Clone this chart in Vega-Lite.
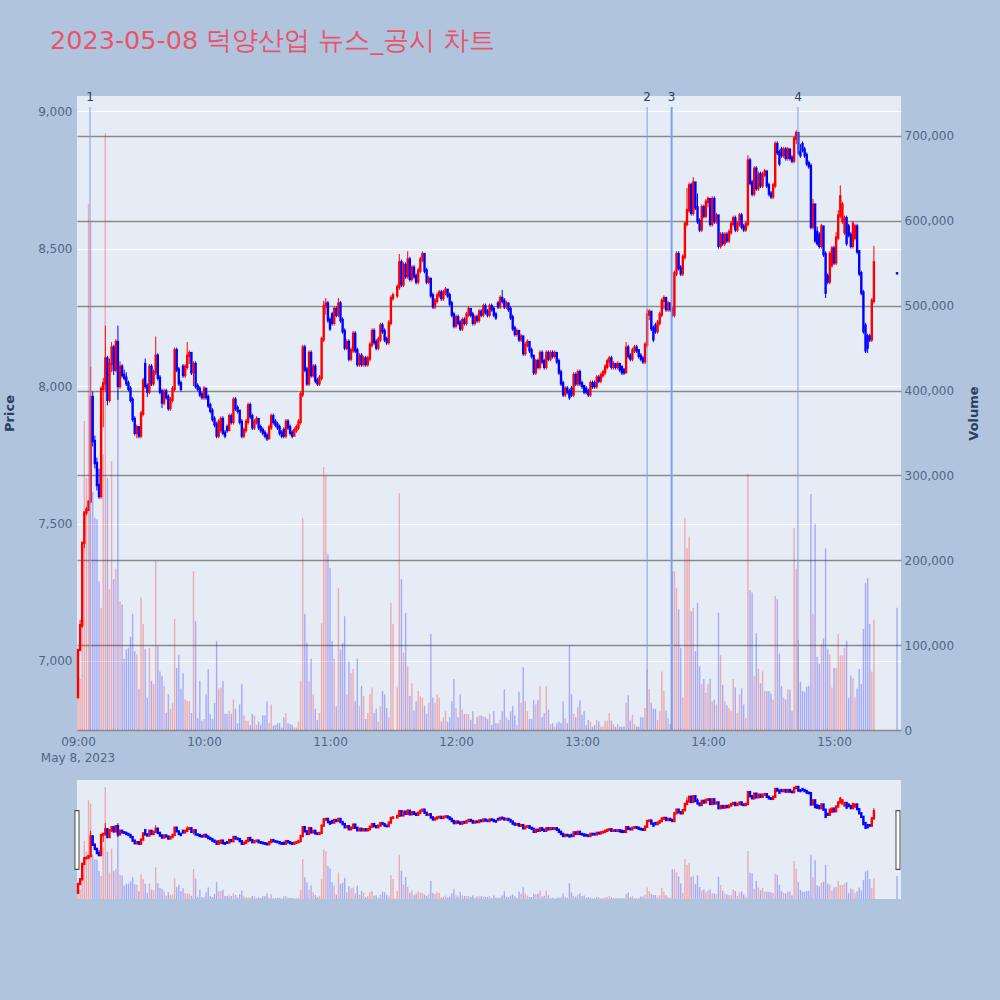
{
  "$schema": "https://vega.github.io/schema/vega-lite/v6.json",
  "description": "Deokyang 1-minute candles with volume, news markers and range slider",
  "autosize": "none",
  "width": 824,
  "height": 634,
  "padding": {"left": 77, "top": 96, "right": 99, "bottom": 270},
  "background": "#b0c4de",
  "title": {
    "text": "2023-05-08 덕양산업 뉴스_공시 차트",
    "anchor": "start",
    "frame": "group",
    "dx": -27,
    "offset": 37,
    "fontSize": 25.5,
    "fontWeight": "normal",
    "color": "#e9546b"
  },
  "datasets": {
    "px": [
      {"t":"2023-05-08T09:00","o":6870,"h":7040,"l":6860,"c":7040,"v":36000},
      {"t":"2023-05-08T09:01","o":7040,"h":7150,"l":7040,"c":7130,"v":60000},
      {"t":"2023-05-08T09:02","o":7130,"h":7430,"l":7120,"c":7430,"v":217000},
      {"t":"2023-05-08T09:03","o":7430,"h":7540,"l":7410,"c":7540,"v":364000},
      {"t":"2023-05-08T09:04","o":7540,"h":7560,"l":7530,"c":7550,"v":297000},
      {"t":"2023-05-08T09:05","o":7550,"h":7580,"l":7550,"c":7580,"v":620000},
      {"t":"2023-05-08T09:06","o":7580,"h":8070,"l":7580,"c":7960,"v":600000},
      {"t":"2023-05-08T09:07","o":7960,"h":7980,"l":7780,"c":7800,"v":280000},
      {"t":"2023-05-08T09:08","o":7800,"h":7820,"l":7700,"c":7720,"v":250000},
      {"t":"2023-05-08T09:09","o":7720,"h":7740,"l":7620,"c":7640,"v":248000},
      {"t":"2023-05-08T09:10","o":7640,"h":7700,"l":7590,"c":7600,"v":175000},
      {"t":"2023-05-08T09:11","o":7600,"h":8000,"l":7590,"c":7990,"v":144000},
      {"t":"2023-05-08T09:12","o":7990,"h":8030,"l":7850,"c":8010,"v":325000},
      {"t":"2023-05-08T09:13","o":8010,"h":8220,"l":7980,"c":8100,"v":703000},
      {"t":"2023-05-08T09:14","o":8100,"h":8110,"l":7930,"c":7950,"v":297000},
      {"t":"2023-05-08T09:15","o":7950,"h":8100,"l":7940,"c":8080,"v":166000},
      {"t":"2023-05-08T09:16","o":8080,"h":8160,"l":8050,"c":8140,"v":317000},
      {"t":"2023-05-08T09:17","o":8140,"h":8150,"l":8040,"c":8060,"v":178000},
      {"t":"2023-05-08T09:18","o":8060,"h":8170,"l":8050,"c":8160,"v":190000},
      {"t":"2023-05-08T09:19","o":8160,"h":8220,"l":7950,"c":8000,"v":400000},
      {"t":"2023-05-08T09:20","o":8000,"h":8090,"l":7990,"c":8070,"v":152000},
      {"t":"2023-05-08T09:21","o":8070,"h":8080,"l":8030,"c":8040,"v":148000},
      {"t":"2023-05-08T09:22","o":8040,"h":8060,"l":8020,"c":8030,"v":84000},
      {"t":"2023-05-08T09:23","o":8030,"h":8050,"l":8000,"c":8010,"v":95000},
      {"t":"2023-05-08T09:24","o":8010,"h":8020,"l":7980,"c":7990,"v":97000},
      {"t":"2023-05-08T09:25","o":7990,"h":8000,"l":7940,"c":7950,"v":110000},
      {"t":"2023-05-08T09:26","o":7950,"h":7960,"l":7870,"c":7880,"v":137000},
      {"t":"2023-05-08T09:27","o":7880,"h":7890,"l":7820,"c":7830,"v":93000},
      {"t":"2023-05-08T09:28","o":7830,"h":7860,"l":7810,"c":7850,"v":89000},
      {"t":"2023-05-08T09:29","o":7850,"h":7850,"l":7810,"c":7820,"v":48000},
      {"t":"2023-05-08T09:30","o":7820,"h":7910,"l":7810,"c":7900,"v":156000},
      {"t":"2023-05-08T09:31","o":7900,"h":8030,"l":7890,"c":8020,"v":125000},
      {"t":"2023-05-08T09:32","o":8080,"h":8100,"l":7990,"c":8000,"v":95000},
      {"t":"2023-05-08T09:33","o":8000,"h":8010,"l":7960,"c":7980,"v":38000},
      {"t":"2023-05-08T09:34","o":7980,"h":8080,"l":7970,"c":8070,"v":97000},
      {"t":"2023-05-08T09:35","o":8070,"h":8080,"l":8000,"c":8010,"v":58000},
      {"t":"2023-05-08T09:36","o":8010,"h":8060,"l":8000,"c":8050,"v":54000},
      {"t":"2023-05-08T09:37","o":8050,"h":8180,"l":8040,"c":8110,"v":199000},
      {"t":"2023-05-08T09:38","o":8110,"h":8120,"l":8020,"c":8030,"v":99000},
      {"t":"2023-05-08T09:39","o":8030,"h":8040,"l":7970,"c":7980,"v":69000},
      {"t":"2023-05-08T09:40","o":7980,"h":7990,"l":7920,"c":7940,"v":64000},
      {"t":"2023-05-08T09:41","o":7940,"h":7990,"l":7930,"c":7980,"v":52000},
      {"t":"2023-05-08T09:42","o":7980,"h":7990,"l":7950,"c":7960,"v":20000},
      {"t":"2023-05-08T09:43","o":7960,"h":7970,"l":7910,"c":7920,"v":42000},
      {"t":"2023-05-08T09:44","o":7920,"h":7960,"l":7910,"c":7950,"v":25000},
      {"t":"2023-05-08T09:45","o":7950,"h":8000,"l":7940,"c":7990,"v":32000},
      {"t":"2023-05-08T09:46","o":7990,"h":8140,"l":7980,"c":8130,"v":131000},
      {"t":"2023-05-08T09:47","o":8130,"h":8140,"l":8050,"c":8060,"v":73000},
      {"t":"2023-05-08T09:48","o":8060,"h":8070,"l":8000,"c":8010,"v":89000},
      {"t":"2023-05-08T09:49","o":8010,"h":8020,"l":7980,"c":7990,"v":49000},
      {"t":"2023-05-08T09:50","o":8070,"h":8080,"l":8030,"c":8040,"v":67000},
      {"t":"2023-05-08T09:51","o":8040,"h":8080,"l":8030,"c":8070,"v":36000},
      {"t":"2023-05-08T09:52","o":8070,"h":8160,"l":8060,"c":8110,"v":34000},
      {"t":"2023-05-08T09:53","o":8110,"h":8130,"l":8080,"c":8120,"v":34000},
      {"t":"2023-05-08T09:54","o":8120,"h":8120,"l":8040,"c":8050,"v":20000},
      {"t":"2023-05-08T09:55","o":8050,"h":8090,"l":8000,"c":8080,"v":187000},
      {"t":"2023-05-08T09:56","o":8080,"h":8090,"l":7990,"c":8000,"v":128000},
      {"t":"2023-05-08T09:57","o":8000,"h":8010,"l":7980,"c":7990,"v":14000},
      {"t":"2023-05-08T09:58","o":7990,"h":8000,"l":7960,"c":7970,"v":58000},
      {"t":"2023-05-08T09:59","o":7970,"h":7980,"l":7950,"c":7960,"v":11000},
      {"t":"2023-05-08T10:00","o":7960,"h":8000,"l":7950,"c":7990,"v":13000},
      {"t":"2023-05-08T10:01","o":7990,"h":7990,"l":7950,"c":7960,"v":42000},
      {"t":"2023-05-08T10:02","o":7960,"h":7970,"l":7920,"c":7930,"v":72000},
      {"t":"2023-05-08T10:03","o":7930,"h":7940,"l":7900,"c":7910,"v":19000},
      {"t":"2023-05-08T10:04","o":7910,"h":7920,"l":7870,"c":7880,"v":13000},
      {"t":"2023-05-08T10:05","o":7880,"h":7890,"l":7850,"c":7860,"v":32000},
      {"t":"2023-05-08T10:06","o":7860,"h":7870,"l":7810,"c":7820,"v":105000},
      {"t":"2023-05-08T10:07","o":7820,"h":7880,"l":7810,"c":7870,"v":49000},
      {"t":"2023-05-08T10:08","o":7840,"h":7890,"l":7830,"c":7880,"v":50000},
      {"t":"2023-05-08T10:09","o":7880,"h":7890,"l":7820,"c":7830,"v":58000},
      {"t":"2023-05-08T10:10","o":7830,"h":7840,"l":7810,"c":7820,"v":19000},
      {"t":"2023-05-08T10:11","o":7850,"h":7860,"l":7830,"c":7840,"v":19000},
      {"t":"2023-05-08T10:12","o":7840,"h":7900,"l":7840,"c":7890,"v":22000},
      {"t":"2023-05-08T10:13","o":7890,"h":7900,"l":7860,"c":7870,"v":19000},
      {"t":"2023-05-08T10:14","o":7870,"h":7960,"l":7860,"c":7950,"v":36000},
      {"t":"2023-05-08T10:15","o":7950,"h":7960,"l":7910,"c":7920,"v":25000},
      {"t":"2023-05-08T10:16","o":7920,"h":7930,"l":7900,"c":7910,"v":8000},
      {"t":"2023-05-08T10:17","o":7910,"h":7910,"l":7860,"c":7870,"v":30000},
      {"t":"2023-05-08T10:18","o":7870,"h":7880,"l":7810,"c":7820,"v":54000},
      {"t":"2023-05-08T10:19","o":7820,"h":7850,"l":7810,"c":7840,"v":17000},
      {"t":"2023-05-08T10:20","o":7840,"h":7880,"l":7830,"c":7870,"v":11000},
      {"t":"2023-05-08T10:21","o":7870,"h":7940,"l":7860,"c":7930,"v":11000},
      {"t":"2023-05-08T10:22","o":7930,"h":7940,"l":7880,"c":7890,"v":6000},
      {"t":"2023-05-08T10:23","o":7890,"h":7900,"l":7840,"c":7850,"v":19000},
      {"t":"2023-05-08T10:24","o":7850,"h":7880,"l":7840,"c":7870,"v":17000},
      {"t":"2023-05-08T10:25","o":7870,"h":7890,"l":7860,"c":7880,"v":6000},
      {"t":"2023-05-08T10:26","o":7880,"h":7880,"l":7840,"c":7850,"v":10000},
      {"t":"2023-05-08T10:27","o":7850,"h":7860,"l":7830,"c":7840,"v":6000},
      {"t":"2023-05-08T10:28","o":7840,"h":7850,"l":7820,"c":7830,"v":17000},
      {"t":"2023-05-08T10:29","o":7830,"h":7840,"l":7810,"c":7820,"v":17000},
      {"t":"2023-05-08T10:30","o":7820,"h":7830,"l":7800,"c":7810,"v":34000},
      {"t":"2023-05-08T10:31","o":7810,"h":7860,"l":7810,"c":7850,"v":8000},
      {"t":"2023-05-08T10:32","o":7850,"h":7900,"l":7840,"c":7890,"v":30000},
      {"t":"2023-05-08T10:33","o":7890,"h":7900,"l":7860,"c":7870,"v":5000},
      {"t":"2023-05-08T10:34","o":7870,"h":7880,"l":7850,"c":7860,"v":6000},
      {"t":"2023-05-08T10:35","o":7860,"h":7870,"l":7840,"c":7850,"v":8000},
      {"t":"2023-05-08T10:36","o":7850,"h":7860,"l":7820,"c":7830,"v":8000},
      {"t":"2023-05-08T10:37","o":7830,"h":7840,"l":7810,"c":7820,"v":3000},
      {"t":"2023-05-08T10:38","o":7840,"h":7850,"l":7810,"c":7820,"v":15000},
      {"t":"2023-05-08T10:39","o":7820,"h":7880,"l":7810,"c":7870,"v":20000},
      {"t":"2023-05-08T10:40","o":7870,"h":7880,"l":7840,"c":7850,"v":8000},
      {"t":"2023-05-08T10:41","o":7850,"h":7860,"l":7820,"c":7830,"v":7000},
      {"t":"2023-05-08T10:42","o":7830,"h":7840,"l":7810,"c":7820,"v":6000},
      {"t":"2023-05-08T10:43","o":7820,"h":7850,"l":7820,"c":7840,"v":3000},
      {"t":"2023-05-08T10:44","o":7840,"h":7860,"l":7830,"c":7850,"v":3000},
      {"t":"2023-05-08T10:45","o":7850,"h":7880,"l":7840,"c":7870,"v":10000},
      {"t":"2023-05-08T10:46","o":7870,"h":7980,"l":7860,"c":7970,"v":58000},
      {"t":"2023-05-08T10:47","o":7970,"h":8150,"l":7960,"c":8140,"v":250000},
      {"t":"2023-05-08T10:48","o":8140,"h":8150,"l":8050,"c":8060,"v":137000},
      {"t":"2023-05-08T10:49","o":8060,"h":8070,"l":8000,"c":8010,"v":103000},
      {"t":"2023-05-08T10:50","o":8010,"h":8130,"l":8000,"c":8120,"v":58000},
      {"t":"2023-05-08T10:51","o":8120,"h":8130,"l":8030,"c":8040,"v":84000},
      {"t":"2023-05-08T10:52","o":8040,"h":8080,"l":8030,"c":8070,"v":42000},
      {"t":"2023-05-08T10:53","o":8070,"h":8080,"l":8010,"c":8020,"v":25000},
      {"t":"2023-05-08T10:54","o":8020,"h":8030,"l":8000,"c":8010,"v":12000},
      {"t":"2023-05-08T10:55","o":8010,"h":8040,"l":8000,"c":8030,"v":20000},
      {"t":"2023-05-08T10:56","o":8030,"h":8180,"l":8020,"c":8170,"v":126000},
      {"t":"2023-05-08T10:57","o":8170,"h":8310,"l":8160,"c":8290,"v":310000},
      {"t":"2023-05-08T10:58","o":8290,"h":8320,"l":8260,"c":8300,"v":300000},
      {"t":"2023-05-08T10:59","o":8300,"h":8310,"l":8230,"c":8240,"v":207000},
      {"t":"2023-05-08T11:00","o":8240,"h":8250,"l":8200,"c":8210,"v":191000},
      {"t":"2023-05-08T11:01","o":8260,"h":8270,"l":8220,"c":8230,"v":105000},
      {"t":"2023-05-08T11:02","o":8230,"h":8290,"l":8220,"c":8280,"v":84000},
      {"t":"2023-05-08T11:03","o":8280,"h":8290,"l":8250,"c":8260,"v":28000},
      {"t":"2023-05-08T11:04","o":8260,"h":8320,"l":8250,"c":8300,"v":167000},
      {"t":"2023-05-08T11:05","o":8300,"h":8310,"l":8230,"c":8240,"v":95000},
      {"t":"2023-05-08T11:06","o":8240,"h":8250,"l":8190,"c":8200,"v":103000},
      {"t":"2023-05-08T11:07","o":8200,"h":8210,"l":8130,"c":8140,"v":134000},
      {"t":"2023-05-08T11:08","o":8140,"h":8170,"l":8130,"c":8160,"v":42000},
      {"t":"2023-05-08T11:09","o":8160,"h":8170,"l":8090,"c":8100,"v":81000},
      {"t":"2023-05-08T11:10","o":8100,"h":8140,"l":8090,"c":8130,"v":67000},
      {"t":"2023-05-08T11:11","o":8130,"h":8200,"l":8120,"c":8190,"v":72000},
      {"t":"2023-05-08T11:12","o":8190,"h":8200,"l":8120,"c":8130,"v":34000},
      {"t":"2023-05-08T11:13","o":8130,"h":8140,"l":8070,"c":8080,"v":84000},
      {"t":"2023-05-08T11:14","o":8080,"h":8120,"l":8070,"c":8110,"v":28000},
      {"t":"2023-05-08T11:15","o":8110,"h":8120,"l":8070,"c":8080,"v":52000},
      {"t":"2023-05-08T11:16","o":8080,"h":8110,"l":8070,"c":8100,"v":40000},
      {"t":"2023-05-08T11:17","o":8100,"h":8110,"l":8070,"c":8080,"v":13000},
      {"t":"2023-05-08T11:18","o":8080,"h":8110,"l":8070,"c":8100,"v":20000},
      {"t":"2023-05-08T11:19","o":8100,"h":8160,"l":8090,"c":8150,"v":42000},
      {"t":"2023-05-08T11:20","o":8150,"h":8210,"l":8140,"c":8200,"v":50000},
      {"t":"2023-05-08T11:21","o":8200,"h":8210,"l":8150,"c":8160,"v":20000},
      {"t":"2023-05-08T11:22","o":8160,"h":8170,"l":8130,"c":8140,"v":25000},
      {"t":"2023-05-08T11:23","o":8140,"h":8180,"l":8130,"c":8170,"v":10000},
      {"t":"2023-05-08T11:24","o":8170,"h":8230,"l":8160,"c":8220,"v":28000},
      {"t":"2023-05-08T11:25","o":8220,"h":8230,"l":8190,"c":8200,"v":46000},
      {"t":"2023-05-08T11:26","o":8200,"h":8210,"l":8160,"c":8170,"v":42000},
      {"t":"2023-05-08T11:27","o":8170,"h":8180,"l":8150,"c":8160,"v":26000},
      {"t":"2023-05-08T11:28","o":8160,"h":8240,"l":8150,"c":8230,"v":15000},
      {"t":"2023-05-08T11:29","o":8230,"h":8330,"l":8220,"c":8320,"v":150000},
      {"t":"2023-05-08T11:30","o":8320,"h":8340,"l":8310,"c":8330,"v":125000},
      {"t":"2023-05-08T11:32","o":8330,"h":8370,"l":8320,"c":8360,"v":50000},
      {"t":"2023-05-08T11:33","o":8360,"h":8480,"l":8350,"c":8450,"v":279000},
      {"t":"2023-05-08T11:34","o":8450,"h":8460,"l":8360,"c":8370,"v":178000},
      {"t":"2023-05-08T11:35","o":8370,"h":8450,"l":8360,"c":8440,"v":91000},
      {"t":"2023-05-08T11:36","o":8440,"h":8450,"l":8390,"c":8400,"v":138000},
      {"t":"2023-05-08T11:37","o":8400,"h":8490,"l":8390,"c":8460,"v":75000},
      {"t":"2023-05-08T11:38","o":8460,"h":8470,"l":8380,"c":8390,"v":40000},
      {"t":"2023-05-08T11:39","o":8390,"h":8440,"l":8380,"c":8430,"v":55000},
      {"t":"2023-05-08T11:40","o":8430,"h":8440,"l":8390,"c":8400,"v":23000},
      {"t":"2023-05-08T11:41","o":8400,"h":8410,"l":8370,"c":8380,"v":34000},
      {"t":"2023-05-08T11:42","o":8380,"h":8430,"l":8370,"c":8420,"v":46000},
      {"t":"2023-05-08T11:43","o":8420,"h":8470,"l":8410,"c":8460,"v":40000},
      {"t":"2023-05-08T11:44","o":8460,"h":8490,"l":8450,"c":8480,"v":38000},
      {"t":"2023-05-08T11:45","o":8480,"h":8480,"l":8410,"c":8420,"v":28000},
      {"t":"2023-05-08T11:46","o":8420,"h":8430,"l":8370,"c":8380,"v":19000},
      {"t":"2023-05-08T11:47","o":8380,"h":8400,"l":8370,"c":8390,"v":32000},
      {"t":"2023-05-08T11:48","o":8390,"h":8390,"l":8320,"c":8330,"v":113000},
      {"t":"2023-05-08T11:49","o":8330,"h":8340,"l":8280,"c":8290,"v":38000},
      {"t":"2023-05-08T11:50","o":8290,"h":8320,"l":8280,"c":8310,"v":32000},
      {"t":"2023-05-08T11:51","o":8310,"h":8340,"l":8300,"c":8330,"v":42000},
      {"t":"2023-05-08T11:52","o":8330,"h":8350,"l":8320,"c":8340,"v":38000},
      {"t":"2023-05-08T11:53","o":8340,"h":8350,"l":8310,"c":8320,"v":10000},
      {"t":"2023-05-08T11:54","o":8320,"h":8350,"l":8310,"c":8340,"v":15000},
      {"t":"2023-05-08T11:55","o":8340,"h":8360,"l":8330,"c":8350,"v":22000},
      {"t":"2023-05-08T11:56","o":8350,"h":8350,"l":8320,"c":8330,"v":10000},
      {"t":"2023-05-08T11:57","o":8330,"h":8340,"l":8290,"c":8300,"v":15000},
      {"t":"2023-05-08T11:58","o":8300,"h":8310,"l":8250,"c":8260,"v":34000},
      {"t":"2023-05-08T11:59","o":8260,"h":8270,"l":8210,"c":8220,"v":60000},
      {"t":"2023-05-08T12:00","o":8220,"h":8260,"l":8210,"c":8250,"v":26000},
      {"t":"2023-05-08T12:01","o":8250,"h":8260,"l":8220,"c":8230,"v":15000},
      {"t":"2023-05-08T12:02","o":8230,"h":8240,"l":8200,"c":8210,"v":42000},
      {"t":"2023-05-08T12:03","o":8210,"h":8250,"l":8200,"c":8240,"v":24000},
      {"t":"2023-05-08T12:04","o":8240,"h":8250,"l":8220,"c":8230,"v":19000},
      {"t":"2023-05-08T12:05","o":8230,"h":8270,"l":8220,"c":8260,"v":19000},
      {"t":"2023-05-08T12:06","o":8260,"h":8290,"l":8250,"c":8280,"v":19000},
      {"t":"2023-05-08T12:07","o":8280,"h":8280,"l":8250,"c":8260,"v":12000},
      {"t":"2023-05-08T12:08","o":8260,"h":8270,"l":8220,"c":8230,"v":22000},
      {"t":"2023-05-08T12:09","o":8230,"h":8260,"l":8220,"c":8250,"v":7000},
      {"t":"2023-05-08T12:10","o":8250,"h":8260,"l":8230,"c":8240,"v":15000},
      {"t":"2023-05-08T12:11","o":8240,"h":8280,"l":8230,"c":8270,"v":17000},
      {"t":"2023-05-08T12:12","o":8270,"h":8280,"l":8250,"c":8260,"v":17000},
      {"t":"2023-05-08T12:13","o":8260,"h":8300,"l":8250,"c":8290,"v":16000},
      {"t":"2023-05-08T12:14","o":8290,"h":8300,"l":8260,"c":8270,"v":15000},
      {"t":"2023-05-08T12:15","o":8270,"h":8280,"l":8250,"c":8260,"v":13000},
      {"t":"2023-05-08T12:16","o":8260,"h":8300,"l":8250,"c":8290,"v":19000},
      {"t":"2023-05-08T12:17","o":8290,"h":8300,"l":8270,"c":8280,"v":6000},
      {"t":"2023-05-08T12:18","o":8280,"h":8290,"l":8250,"c":8260,"v":22000},
      {"t":"2023-05-08T12:19","o":8260,"h":8270,"l":8240,"c":8250,"v":8000},
      {"t":"2023-05-08T12:20","o":8300,"h":8310,"l":8280,"c":8290,"v":8000},
      {"t":"2023-05-08T12:21","o":8290,"h":8330,"l":8280,"c":8320,"v":12000},
      {"t":"2023-05-08T12:22","o":8320,"h":8350,"l":8300,"c":8310,"v":22000},
      {"t":"2023-05-08T12:23","o":8310,"h":8320,"l":8280,"c":8290,"v":48000},
      {"t":"2023-05-08T12:24","o":8290,"h":8310,"l":8280,"c":8300,"v":15000},
      {"t":"2023-05-08T12:25","o":8300,"h":8300,"l":8270,"c":8280,"v":12000},
      {"t":"2023-05-08T12:26","o":8280,"h":8290,"l":8240,"c":8250,"v":22000},
      {"t":"2023-05-08T12:27","o":8250,"h":8260,"l":8200,"c":8210,"v":28000},
      {"t":"2023-05-08T12:28","o":8210,"h":8220,"l":8180,"c":8190,"v":17000},
      {"t":"2023-05-08T12:29","o":8190,"h":8210,"l":8180,"c":8200,"v":6000},
      {"t":"2023-05-08T12:30","o":8200,"h":8200,"l":8160,"c":8170,"v":45000},
      {"t":"2023-05-08T12:31","o":8170,"h":8190,"l":8160,"c":8180,"v":32000},
      {"t":"2023-05-08T12:32","o":8180,"h":8180,"l":8110,"c":8120,"v":74000},
      {"t":"2023-05-08T12:33","o":8120,"h":8160,"l":8110,"c":8150,"v":34000},
      {"t":"2023-05-08T12:34","o":8150,"h":8170,"l":8140,"c":8160,"v":22000},
      {"t":"2023-05-08T12:35","o":8160,"h":8160,"l":8120,"c":8130,"v":13000},
      {"t":"2023-05-08T12:36","o":8130,"h":8140,"l":8100,"c":8110,"v":13000},
      {"t":"2023-05-08T12:37","o":8110,"h":8110,"l":8040,"c":8050,"v":35000},
      {"t":"2023-05-08T12:38","o":8050,"h":8100,"l":8040,"c":8090,"v":30000},
      {"t":"2023-05-08T12:39","o":8090,"h":8100,"l":8060,"c":8070,"v":35000},
      {"t":"2023-05-08T12:40","o":8070,"h":8130,"l":8060,"c":8120,"v":52000},
      {"t":"2023-05-08T12:41","o":8120,"h":8130,"l":8080,"c":8090,"v":15000},
      {"t":"2023-05-08T12:42","o":8090,"h":8100,"l":8060,"c":8070,"v":20000},
      {"t":"2023-05-08T12:43","o":8070,"h":8130,"l":8060,"c":8120,"v":52000},
      {"t":"2023-05-08T12:44","o":8120,"h":8130,"l":8090,"c":8100,"v":24000},
      {"t":"2023-05-08T12:45","o":8100,"h":8130,"l":8090,"c":8120,"v":7000},
      {"t":"2023-05-08T12:46","o":8120,"h":8130,"l":8100,"c":8110,"v":8000},
      {"t":"2023-05-08T12:47","o":8110,"h":8130,"l":8100,"c":8120,"v":4000},
      {"t":"2023-05-08T12:48","o":8120,"h":8120,"l":8080,"c":8090,"v":8000},
      {"t":"2023-05-08T12:49","o":8090,"h":8100,"l":8040,"c":8050,"v":10000},
      {"t":"2023-05-08T12:50","o":8050,"h":8060,"l":8000,"c":8010,"v":8000},
      {"t":"2023-05-08T12:51","o":8010,"h":8020,"l":7960,"c":7970,"v":34000},
      {"t":"2023-05-08T12:52","o":7970,"h":8000,"l":7960,"c":7990,"v":14000},
      {"t":"2023-05-08T12:53","o":7990,"h":8000,"l":7970,"c":7980,"v":8000},
      {"t":"2023-05-08T12:54","o":7980,"h":7990,"l":7950,"c":7960,"v":99000},
      {"t":"2023-05-08T12:55","o":7990,"h":8000,"l":7960,"c":7970,"v":42000},
      {"t":"2023-05-08T12:56","o":7970,"h":8050,"l":7960,"c":8040,"v":19000},
      {"t":"2023-05-08T12:57","o":8040,"h":8050,"l":8000,"c":8010,"v":15000},
      {"t":"2023-05-08T12:58","o":8010,"h":8060,"l":8000,"c":8050,"v":27000},
      {"t":"2023-05-08T12:59","o":8050,"h":8060,"l":8000,"c":8010,"v":35000},
      {"t":"2023-05-08T13:00","o":8010,"h":8020,"l":7990,"c":8000,"v":18000},
      {"t":"2023-05-08T13:01","o":8000,"h":8000,"l":7970,"c":7980,"v":22000},
      {"t":"2023-05-08T13:02","o":7990,"h":8000,"l":7970,"c":7980,"v":6000},
      {"t":"2023-05-08T13:03","o":7980,"h":7990,"l":7960,"c":7970,"v":12000},
      {"t":"2023-05-08T13:04","o":7970,"h":8020,"l":7960,"c":8010,"v":10000},
      {"t":"2023-05-08T13:05","o":8010,"h":8020,"l":7990,"c":8000,"v":4000},
      {"t":"2023-05-08T13:06","o":8010,"h":8020,"l":7990,"c":8000,"v":6000},
      {"t":"2023-05-08T13:07","o":8000,"h":8040,"l":7990,"c":8030,"v":12000},
      {"t":"2023-05-08T13:08","o":8030,"h":8040,"l":8010,"c":8020,"v":10000},
      {"t":"2023-05-08T13:09","o":8020,"h":8050,"l":8010,"c":8040,"v":4000},
      {"t":"2023-05-08T13:10","o":8040,"h":8060,"l":8030,"c":8050,"v":4000},
      {"t":"2023-05-08T13:11","o":8050,"h":8080,"l":8040,"c":8070,"v":11000},
      {"t":"2023-05-08T13:12","o":8070,"h":8100,"l":8060,"c":8090,"v":11000},
      {"t":"2023-05-08T13:13","o":8090,"h":8110,"l":8070,"c":8100,"v":20000},
      {"t":"2023-05-08T13:14","o":8100,"h":8110,"l":8060,"c":8070,"v":11000},
      {"t":"2023-05-08T13:15","o":8070,"h":8090,"l":8060,"c":8080,"v":7000},
      {"t":"2023-05-08T13:16","o":8080,"h":8080,"l":8060,"c":8070,"v":4000},
      {"t":"2023-05-08T13:17","o":8070,"h":8090,"l":8060,"c":8080,"v":7000},
      {"t":"2023-05-08T13:18","o":8080,"h":8080,"l":8050,"c":8060,"v":4000},
      {"t":"2023-05-08T13:19","o":8070,"h":8070,"l":8040,"c":8050,"v":4000},
      {"t":"2023-05-08T13:20","o":8060,"h":8060,"l":8040,"c":8050,"v":4000},
      {"t":"2023-05-08T13:21","o":8050,"h":8160,"l":8050,"c":8140,"v":32000},
      {"t":"2023-05-08T13:22","o":8140,"h":8150,"l":8100,"c":8110,"v":41000},
      {"t":"2023-05-08T13:23","o":8110,"h":8120,"l":8090,"c":8100,"v":11000},
      {"t":"2023-05-08T13:24","o":8100,"h":8140,"l":8090,"c":8130,"v":18000},
      {"t":"2023-05-08T13:25","o":8130,"h":8150,"l":8120,"c":8140,"v":7000},
      {"t":"2023-05-08T13:26","o":8140,"h":8150,"l":8120,"c":8130,"v":4000},
      {"t":"2023-05-08T13:27","o":8130,"h":8130,"l":8100,"c":8110,"v":4000},
      {"t":"2023-05-08T13:28","o":8110,"h":8120,"l":8090,"c":8100,"v":15000},
      {"t":"2023-05-08T13:29","o":8100,"h":8110,"l":8080,"c":8090,"v":15000},
      {"t":"2023-05-08T13:30","o":8090,"h":8160,"l":8080,"c":8150,"v":26000},
      {"t":"2023-05-08T13:31","o":8150,"h":8280,"l":8140,"c":8260,"v":72000},
      {"t":"2023-05-08T13:32","o":8260,"h":8280,"l":8240,"c":8270,"v":48000},
      {"t":"2023-05-08T13:33","o":8270,"h":8270,"l":8200,"c":8210,"v":32000},
      {"t":"2023-05-08T13:34","o":8210,"h":8220,"l":8160,"c":8170,"v":25000},
      {"t":"2023-05-08T13:35","o":8220,"h":8230,"l":8190,"c":8200,"v":25000},
      {"t":"2023-05-08T13:36","o":8200,"h":8240,"l":8190,"c":8230,"v":12000},
      {"t":"2023-05-08T13:37","o":8230,"h":8270,"l":8220,"c":8260,"v":22000},
      {"t":"2023-05-08T13:38","o":8260,"h":8320,"l":8250,"c":8310,"v":69000},
      {"t":"2023-05-08T13:39","o":8310,"h":8330,"l":8280,"c":8320,"v":46000},
      {"t":"2023-05-08T13:40","o":8320,"h":8320,"l":8270,"c":8280,"v":23000},
      {"t":"2023-05-08T13:41","o":8280,"h":8310,"l":8270,"c":8300,"v":14000},
      {"t":"2023-05-08T13:42","o":8300,"h":8300,"l":8270,"c":8280,"v":7000},
      {"t":"2023-05-08T13:43","o":8280,"h":8290,"l":8250,"c":8260,"v":187000},
      {"t":"2023-05-08T13:44","o":8260,"h":8420,"l":8250,"c":8410,"v":187000},
      {"t":"2023-05-08T13:45","o":8410,"h":8490,"l":8400,"c":8480,"v":167000},
      {"t":"2023-05-08T13:46","o":8480,"h":8490,"l":8420,"c":8430,"v":142000},
      {"t":"2023-05-08T13:47","o":8430,"h":8440,"l":8400,"c":8410,"v":97000},
      {"t":"2023-05-08T13:48","o":8410,"h":8480,"l":8400,"c":8470,"v":38000},
      {"t":"2023-05-08T13:49","o":8470,"h":8600,"l":8460,"c":8590,"v":250000},
      {"t":"2023-05-08T13:50","o":8590,"h":8720,"l":8580,"c":8640,"v":214000},
      {"t":"2023-05-08T13:51","o":8640,"h":8740,"l":8630,"c":8730,"v":228000},
      {"t":"2023-05-08T13:52","o":8730,"h":8740,"l":8620,"c":8630,"v":140000},
      {"t":"2023-05-08T13:53","o":8630,"h":8760,"l":8620,"c":8740,"v":144000},
      {"t":"2023-05-08T13:54","o":8740,"h":8740,"l":8640,"c":8650,"v":93000},
      {"t":"2023-05-08T13:55","o":8650,"h":8700,"l":8590,"c":8600,"v":150000},
      {"t":"2023-05-08T13:56","o":8600,"h":8610,"l":8560,"c":8570,"v":75000},
      {"t":"2023-05-08T13:57","o":8570,"h":8660,"l":8560,"c":8650,"v":54000},
      {"t":"2023-05-08T13:58","o":8650,"h":8660,"l":8610,"c":8620,"v":60000},
      {"t":"2023-05-08T13:59","o":8620,"h":8680,"l":8610,"c":8670,"v":44000},
      {"t":"2023-05-08T14:00","o":8670,"h":8690,"l":8650,"c":8680,"v":54000},
      {"t":"2023-05-08T14:01","o":8680,"h":8680,"l":8580,"c":8590,"v":60000},
      {"t":"2023-05-08T14:02","o":8590,"h":8690,"l":8580,"c":8680,"v":34000},
      {"t":"2023-05-08T14:03","o":8680,"h":8690,"l":8590,"c":8600,"v":36000},
      {"t":"2023-05-08T14:04","o":8600,"h":8630,"l":8590,"c":8620,"v":30000},
      {"t":"2023-05-08T14:05","o":8620,"h":8620,"l":8500,"c":8510,"v":138000},
      {"t":"2023-05-08T14:06","o":8510,"h":8560,"l":8500,"c":8550,"v":88000},
      {"t":"2023-05-08T14:07","o":8550,"h":8560,"l":8510,"c":8520,"v":53000},
      {"t":"2023-05-08T14:08","o":8520,"h":8560,"l":8510,"c":8550,"v":34000},
      {"t":"2023-05-08T14:09","o":8550,"h":8560,"l":8520,"c":8530,"v":29000},
      {"t":"2023-05-08T14:10","o":8530,"h":8570,"l":8520,"c":8560,"v":26000},
      {"t":"2023-05-08T14:11","o":8560,"h":8600,"l":8550,"c":8590,"v":23000},
      {"t":"2023-05-08T14:12","o":8590,"h":8620,"l":8580,"c":8610,"v":60000},
      {"t":"2023-05-08T14:13","o":8610,"h":8620,"l":8560,"c":8570,"v":50000},
      {"t":"2023-05-08T14:14","o":8570,"h":8600,"l":8560,"c":8590,"v":20000},
      {"t":"2023-05-08T14:15","o":8590,"h":8630,"l":8580,"c":8620,"v":42000},
      {"t":"2023-05-08T14:16","o":8620,"h":8630,"l":8570,"c":8580,"v":49000},
      {"t":"2023-05-08T14:17","o":8580,"h":8590,"l":8560,"c":8570,"v":30000},
      {"t":"2023-05-08T14:18","o":8570,"h":8600,"l":8560,"c":8590,"v":14000},
      {"t":"2023-05-08T14:19","o":8590,"h":8840,"l":8580,"c":8820,"v":302000},
      {"t":"2023-05-08T14:20","o":8820,"h":8830,"l":8730,"c":8740,"v":165000},
      {"t":"2023-05-08T14:21","o":8740,"h":8750,"l":8690,"c":8700,"v":162000},
      {"t":"2023-05-08T14:22","o":8700,"h":8800,"l":8690,"c":8790,"v":64000},
      {"t":"2023-05-08T14:23","o":8790,"h":8800,"l":8710,"c":8720,"v":114000},
      {"t":"2023-05-08T14:24","o":8720,"h":8780,"l":8710,"c":8770,"v":72000},
      {"t":"2023-05-08T14:25","o":8770,"h":8780,"l":8720,"c":8730,"v":55000},
      {"t":"2023-05-08T14:26","o":8730,"h":8780,"l":8720,"c":8770,"v":69000},
      {"t":"2023-05-08T14:27","o":8770,"h":8790,"l":8760,"c":8780,"v":46000},
      {"t":"2023-05-08T14:28","o":8780,"h":8780,"l":8720,"c":8730,"v":46000},
      {"t":"2023-05-08T14:29","o":8730,"h":8740,"l":8690,"c":8700,"v":46000},
      {"t":"2023-05-08T14:30","o":8700,"h":8710,"l":8680,"c":8690,"v":43000},
      {"t":"2023-05-08T14:31","o":8690,"h":8740,"l":8680,"c":8730,"v":36000},
      {"t":"2023-05-08T14:32","o":8730,"h":8890,"l":8720,"c":8880,"v":158000},
      {"t":"2023-05-08T14:33","o":8880,"h":8890,"l":8840,"c":8850,"v":154000},
      {"t":"2023-05-08T14:34","o":8850,"h":8860,"l":8800,"c":8810,"v":90000},
      {"t":"2023-05-08T14:35","o":8860,"h":8870,"l":8830,"c":8840,"v":52000},
      {"t":"2023-05-08T14:36","o":8840,"h":8870,"l":8830,"c":8860,"v":38000},
      {"t":"2023-05-08T14:37","o":8860,"h":8870,"l":8820,"c":8830,"v":36000},
      {"t":"2023-05-08T14:38","o":8830,"h":8870,"l":8820,"c":8860,"v":48000},
      {"t":"2023-05-08T14:39","o":8860,"h":8860,"l":8820,"c":8830,"v":47000},
      {"t":"2023-05-08T14:40","o":8830,"h":8840,"l":8810,"c":8820,"v":22000},
      {"t":"2023-05-08T14:41","o":8820,"h":8910,"l":8810,"c":8900,"v":238000},
      {"t":"2023-05-08T14:42","o":8900,"h":8930,"l":8880,"c":8920,"v":190000},
      {"t":"2023-05-08T14:43","o":8920,"h":8920,"l":8840,"c":8850,"v":106000},
      {"t":"2023-05-08T14:44","o":8850,"h":8880,"l":8830,"c":8840,"v":57000},
      {"t":"2023-05-08T14:45","o":8880,"h":8890,"l":8850,"c":8860,"v":46000},
      {"t":"2023-05-08T14:46","o":8860,"h":8870,"l":8830,"c":8840,"v":45000},
      {"t":"2023-05-08T14:47","o":8840,"h":8850,"l":8800,"c":8810,"v":51000},
      {"t":"2023-05-08T14:48","o":8810,"h":8820,"l":8790,"c":8800,"v":52000},
      {"t":"2023-05-08T14:49","o":8800,"h":8810,"l":8570,"c":8580,"v":278000},
      {"t":"2023-05-08T14:50","o":8580,"h":8680,"l":8570,"c":8660,"v":137000},
      {"t":"2023-05-08T14:51","o":8660,"h":8660,"l":8520,"c":8530,"v":243000},
      {"t":"2023-05-08T14:52","o":8560,"h":8580,"l":8510,"c":8520,"v":86000},
      {"t":"2023-05-08T14:53","o":8550,"h":8560,"l":8500,"c":8510,"v":78000},
      {"t":"2023-05-08T14:54","o":8510,"h":8590,"l":8500,"c":8580,"v":101000},
      {"t":"2023-05-08T14:55","o":8580,"h":8580,"l":8470,"c":8480,"v":108000},
      {"t":"2023-05-08T14:56","o":8480,"h":8490,"l":8320,"c":8340,"v":214000},
      {"t":"2023-05-08T14:57","o":8400,"h":8410,"l":8370,"c":8380,"v":95000},
      {"t":"2023-05-08T14:58","o":8380,"h":8490,"l":8370,"c":8480,"v":89000},
      {"t":"2023-05-08T14:59","o":8440,"h":8510,"l":8430,"c":8500,"v":50000},
      {"t":"2023-05-08T15:00","o":8500,"h":8510,"l":8440,"c":8450,"v":73000},
      {"t":"2023-05-08T15:01","o":8450,"h":8560,"l":8440,"c":8540,"v":73000},
      {"t":"2023-05-08T15:02","o":8540,"h":8640,"l":8530,"c":8620,"v":113000},
      {"t":"2023-05-08T15:03","o":8620,"h":8730,"l":8610,"c":8690,"v":88000},
      {"t":"2023-05-08T15:04","o":8600,"h":8670,"l":8590,"c":8660,"v":88000},
      {"t":"2023-05-08T15:05","o":8560,"h":8620,"l":8550,"c":8610,"v":97000},
      {"t":"2023-05-08T15:06","o":8610,"h":8620,"l":8510,"c":8520,"v":105000},
      {"t":"2023-05-08T15:07","o":8580,"h":8590,"l":8540,"c":8550,"v":38000},
      {"t":"2023-05-08T15:08","o":8550,"h":8560,"l":8500,"c":8510,"v":64000},
      {"t":"2023-05-08T15:09","o":8510,"h":8600,"l":8500,"c":8590,"v":61000},
      {"t":"2023-05-08T15:10","o":8540,"h":8590,"l":8530,"c":8580,"v":38000},
      {"t":"2023-05-08T15:11","o":8580,"h":8590,"l":8480,"c":8490,"v":49000},
      {"t":"2023-05-08T15:12","o":8490,"h":8490,"l":8400,"c":8410,"v":72000},
      {"t":"2023-05-08T15:13","o":8410,"h":8420,"l":8330,"c":8340,"v":54000},
      {"t":"2023-05-08T15:14","o":8340,"h":8350,"l":8190,"c":8200,"v":119000},
      {"t":"2023-05-08T15:15","o":8220,"h":8230,"l":8120,"c":8130,"v":173000},
      {"t":"2023-05-08T15:16","o":8180,"h":8190,"l":8120,"c":8140,"v":179000},
      {"t":"2023-05-08T15:17","o":8180,"h":8190,"l":8160,"c":8170,"v":125000},
      {"t":"2023-05-08T15:18","o":8170,"h":8320,"l":8160,"c":8310,"v":69000},
      {"t":"2023-05-08T15:19","o":8310,"h":8510,"l":8300,"c":8450,"v":130000},
      {"t":"2023-05-08T15:30","o":8410,"h":8410,"l":8410,"c":8410,"v":144000}
    ],
    "news": [
      {"n": "1", "t": "2023-05-08T09:05:43"},
      {"n": "2", "t": "2023-05-08T13:31:00"},
      {"n": "3", "t": "2023-05-08T13:42:40"},
      {"n": "4", "t": "2023-05-08T14:42:50"}
    ],
    "ends": [
      {"t": "2023-05-08T08:59:31"},
      {"t": "2023-05-08T15:30:28"}
    ],
    "pane": [
      {"t": "2023-05-08T08:59:31", "t2": "2023-05-08T15:31:54"}
    ],
    "day": [
      {"t": "2023-05-08T09:00", "s": "May 8, 2023"}
    ]
  },
  "data": {"name": "px"},
  "encoding": {
    "x": {
      "field": "t",
      "type": "temporal",
      "scale": {"nice": false, "padding": 0},
      "axis": {
        "title": null,
        "format": "%H:%M",
        "tickCount": 7,
        "labelFontSize": 12,
        "labelColor": "#506784",
        "labelPadding": 6,
        "labelFlush": false,
        "domain": false,
        "ticks": false,
        "grid": false
      }
    }
  },
  "layer": [
    {
      "data": {"name": "pane"},
      "mark": {"type": "rect", "fill": "#e5ecf6"},
      "encoding": {
        "x2": {"field": "t2"},
        "y": {"datum": 6749, "type": "quantitative", "scale": {"domain": [6749, 9055], "nice": false, "zero": false, "range": [803, 684]}, "axis": null},
        "y2": {"datum": 9055}
      }
    },
    {
      "mark": {"type": "bar", "width": 1.4, "opacity": 0.28},
      "encoding": {
        "y": {
          "field": "v",
          "type": "quantitative",
          "scale": {"domain": [0, 747000], "nice": false},
          "axis": {
            "orient": "right",
            "values": [0, 100000, 200000, 300000, 400000, 500000, 600000, 700000],
            "format": ",d",
            "grid": true,
            "gridColor": "#8a8a8a",
            "gridWidth": 1.5,
            "domain": false,
            "ticks": false,
            "labelPadding": 3,
            "labelFontSize": 12,
            "labelColor": "#506784",
            "title": "Volume",
            "titleFontSize": 13,
            "titleFontWeight": "bold",
            "titleColor": "#2a3f5f",
            "titleAngle": 270,
            "titleAlign": "center",
            "titleBaseline": "middle",
            "titleX": 72,
            "titleY": 317
          }
        },
        "color": {"condition": {"test": "datum.c > datum.o", "value": "#ff0000"}, "value": "#0000ff"}
      }
    },
    {
      "mark": {"type": "rule", "strokeWidth": 1},
      "encoding": {
        "y": {
          "field": "l",
          "type": "quantitative",
          "scale": {"domain": [6749, 9055], "nice": false, "zero": false},
          "axis": {
            "orient": "left",
            "values": [7000, 7500, 8000, 8500, 9000],
            "format": ",d",
            "grid": true,
            "gridColor": "#ffffff",
            "gridWidth": 1,
            "domain": false,
            "ticks": false,
            "labelPadding": 5,
            "labelFontSize": 12,
            "labelColor": "#506784",
            "title": "Price",
            "titleFontSize": 13,
            "titleFontWeight": "bold",
            "titleColor": "#2a3f5f",
            "titleAngle": 270,
            "titleAlign": "center",
            "titleBaseline": "middle",
            "titleX": -68,
            "titleY": 317
          }
        },
        "y2": {"field": "h"},
        "color": {"condition": {"test": "datum.c > datum.o", "value": "#ff0000"}, "value": "#0000ff"}
      }
    },
    {
      "mark": {"type": "rule", "strokeWidth": 2.4, "strokeCap": "square"},
      "encoding": {
        "y": {"field": "o", "type": "quantitative", "scale": {"domain": [6749, 9055], "nice": false, "zero": false}, "axis": null},
        "y2": {"field": "c"},
        "color": {"condition": {"test": "datum.c > datum.o", "value": "#ff0000"}, "value": "#0000ff"}
      }
    },
    {
      "data": {"name": "news"},
      "mark": {"type": "rule", "color": "#7f9ef2"},
      "encoding": {
        "y": {"datum": 9015, "type": "quantitative", "scale": {"domain": [6749, 9055], "nice": false, "zero": false}, "axis": null},
        "y2": {"datum": 6749},
        "strokeWidth": {"condition": {"test": "datum.n == '3'", "value": 2}, "value": 1}
      }
    },
    {
      "data": {"name": "news"},
      "mark": {"type": "text", "fontSize": 12, "color": "#2a3f5f", "baseline": "middle", "align": "center"},
      "encoding": {
        "y": {"datum": 9051, "type": "quantitative", "scale": {"domain": [6749, 9055], "nice": false, "zero": false}, "axis": null},
        "text": {"field": "n"}
      }
    },
    {
      "data": {"name": "day"},
      "mark": {"type": "text", "fontSize": 12, "color": "#506784", "baseline": "middle", "align": "center", "dy": 28},
      "encoding": {
        "y": {"datum": 6749, "type": "quantitative", "scale": {"domain": [6749, 9055], "nice": false, "zero": false}, "axis": null},
        "text": {"field": "s"}
      }
    },
    {
      "mark": {"type": "bar", "width": 1.4, "opacity": 0.28},
      "encoding": {
        "y": {"field": "v", "type": "quantitative", "scale": {"domain": [0, 747000], "nice": false, "range": [803, 684]}, "axis": null},
        "color": {"condition": {"test": "datum.c > datum.o", "value": "#ff0000"}, "value": "#0000ff"}
      }
    },
    {
      "mark": {"type": "rule", "strokeWidth": 1},
      "encoding": {
        "y": {"field": "l", "type": "quantitative", "scale": {"domain": [6749, 9055], "nice": false, "zero": false, "range": [803, 684]}, "axis": null},
        "y2": {"field": "h"},
        "color": {"condition": {"test": "datum.c > datum.o", "value": "#ff0000"}, "value": "#0000ff"}
      }
    },
    {
      "mark": {"type": "rule", "strokeWidth": 2.4, "strokeCap": "square"},
      "encoding": {
        "y": {"field": "o", "type": "quantitative", "scale": {"domain": [6749, 9055], "nice": false, "zero": false, "range": [803, 684]}, "axis": null},
        "y2": {"field": "c"},
        "color": {"condition": {"test": "datum.c > datum.o", "value": "#ff0000"}, "value": "#0000ff"}
      }
    },
    {
      "data": {"name": "ends"},
      "mark": {"type": "rule", "strokeWidth": 5, "color": "#4a4a4a"},
      "encoding": {
        "y": {"datum": 8474, "type": "quantitative", "scale": {"domain": [6749, 9055], "nice": false, "zero": false, "range": [803, 684]}, "axis": null},
        "y2": {"datum": 7311}
      }
    },
    {
      "data": {"name": "ends"},
      "mark": {"type": "rule", "strokeWidth": 3, "color": "#ffffff"},
      "encoding": {
        "y": {"datum": 8450, "type": "quantitative", "scale": {"domain": [6749, 9055], "nice": false, "zero": false, "range": [803, 684]}, "axis": null},
        "y2": {"datum": 7335}
      }
    }
  ],
  "resolve": {"scale": {"y": "independent"}},
  "config": {
    "font": "DejaVu Sans",
    "view": {"fill": "#e5ecf6", "stroke": null}
  }
}
